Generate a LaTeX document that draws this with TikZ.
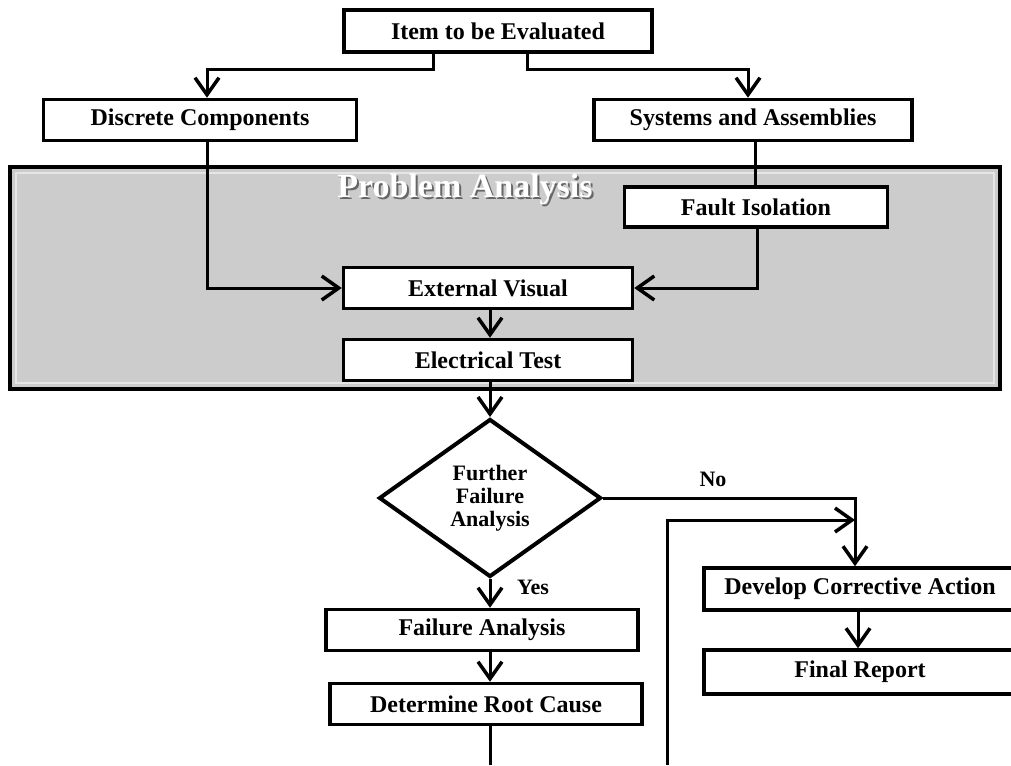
\documentclass[tikz,border=0pt]{standalone}
\usepackage{fontspec}
\setmainfont{Liberation Serif}
\usetikzlibrary{arrows.meta,shapes.geometric,calc}
\tikzset{
  box/.style={draw, line width=3.5pt, fill=white, inner sep=0pt, minimum height=41pt, font=\fontsize{24}{26}\selectfont\bfseries},
  conn/.style={line width=3pt},
  arr/.style={conn, -{Straight Barb[length=17pt,width=24pt,line width=3.5pt]}},
  lbl/.style={font=\fontsize{22}{24}\selectfont\bfseries},
}
\begin{document}
\begin{tikzpicture}[x=1pt,y=-1pt]
\useasboundingbox (0,0) rectangle (1011,765);
\clip (0,0) rectangle (1011,765);
\fill[white] (0,0) rectangle (1011,765);
% Problem analysis panel
\node[draw, line width=4.5pt, fill=gray!40, minimum width=990pt, minimum height=222pt, inner sep=0pt] (panel) at (505,278) {};
\draw[white!80!gray, line width=2pt] (16,173) rectangle (994,383);
\node[font=\fontsize{34}{36}\selectfont\bfseries, text=black!60] (pashadow) at (467,191) {Problem Analysis};
\node[font=\fontsize{34}{36}\selectfont\bfseries, text=white] (ptitle) at (465,189) {Problem Analysis};
% boxes
\node[box, minimum width=308pt, minimum height=42pt] (item) at (498,31) {Item to be Evaluated};
\node[box, minimum width=313pt] (disc) at (200,120) {Discrete Components};
\node[box, minimum width=318pt] (sys) at (753,120) {Systems and Assemblies};
\node[box, minimum width=263pt, minimum height=40pt] (fault) at (756,207) {Fault Isolation};
\node[box, minimum width=289pt] (ext) at (488,288) {External Visual};
\node[box, minimum width=289pt] (elec) at (488,360) {Electrical Test};
\node[draw, line width=4pt, fill=white, shape=diamond, minimum width=222pt, minimum height=158pt, inner sep=0pt, align=center, font=\fontsize{22}{23}\selectfont\bfseries] (dia) at (490,498) {Further\\Failure\\Analysis};
\node[box, minimum width=312pt] (fa) at (482,630) {Failure Analysis};
\node[box, minimum width=312pt] (drc) at (486,704) {Determine Root Cause};
\node[box, minimum width=312pt, minimum height=42pt] (dev) at (860,589) {Develop Corrective Action};
\node[box, minimum width=312pt, minimum height=44pt] (fin) at (860,672) {Final Report};
% coordinates
\coordinate (bottomL) at (490,765);
\coordinate (bottomR) at (667,765);
\coordinate (join) at (855,520);
% connectors
\draw[arr] (433,0 |- item.south) |- (207,70) -- (207,0 |- disc.north);
\draw[arr] (527,0 |- item.south) |- (748,70) -- (748,0 |- sys.north);
\draw[arr] (207,0 |- disc.south) |- (ext.west);
\draw[conn] (755,0 |- sys.south) -- (755,0 |- fault.north);
\draw[arr] (757,0 |- fault.south) |- (ext.east);
\draw[arr] (490,0 |- ext.south) -- (490,0 |- elec.north);
\draw[arr] (490,0 |- elec.south) -- (dia.north);
\draw[arr] (dia.east) -| (855,0 |- dev.north);
\draw[arr] (bottomR) |- (join);
\draw[arr] (dia.south) -- (490,0 |- fa.north);
\draw[arr] (490,0 |- fa.south) -- (490,0 |- drc.north);
\draw[conn] (490,0 |- drc.south) -- (bottomL);
\draw[arr] (858,0 |- dev.south) -- (858,0 |- fin.north);
% labels
\node[lbl] (no) at (713,479) {No};
\node[lbl] (yes) at (533,587) {Yes};
\end{tikzpicture}
\end{document}
